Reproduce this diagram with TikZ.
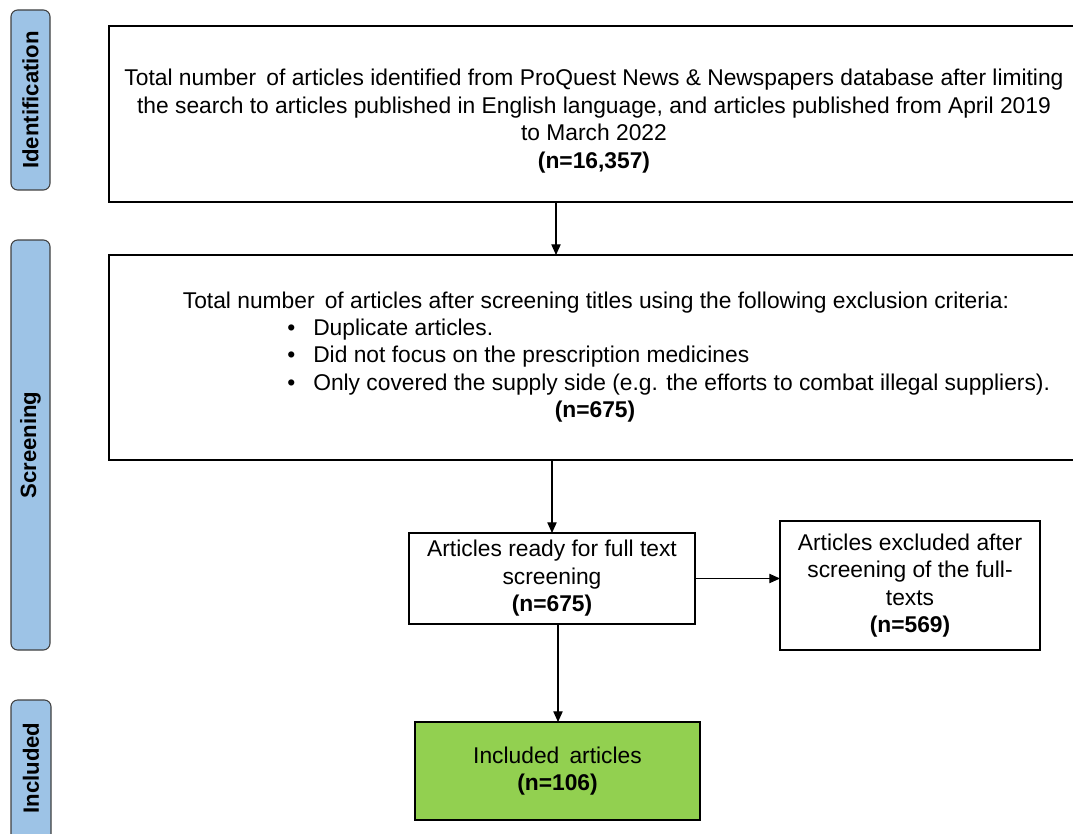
\documentclass[tikz,border=0pt]{standalone}
\usepackage{fontspec}
\setmainfont{Liberation Sans}
\usetikzlibrary{arrows.meta}
\definecolor{sidebl}{HTML}{9DC3E6}
\definecolor{incgreen}{HTML}{92D050}
\definecolor{edgegray}{HTML}{404040}
\begin{document}
\begin{tikzpicture}[x=0.75pt,y=-0.75pt,
  boxst/.style={draw=black,line width=0.8pt,rectangle,inner sep=0pt,outer sep=0pt},
  sidest/.style={draw=edgegray,fill=sidebl,line width=0.8pt,rounded corners=5pt,rectangle,inner sep=0pt,outer sep=0pt},
  sidetxt/.style={rotate=90,font=\fontsize{16.6pt}{18pt}\selectfont\bfseries},
  txt/.style={font=\fontsize{17.1pt}{20.6pt}\selectfont,inner sep=0pt,align=center},
  arr/.style={-{Triangle[length=8pt,width=7pt]},line width=0.8pt}]
\useasboundingbox (0,0) rectangle (1073,834);
\begin{scope}
\clip (0,0) rectangle (1073,834);
% side labels
\node[sidest,minimum width=39*0.75pt,minimum height=180*0.75pt] (sid) at (30.5,100) {};
\node[sidetxt] (sidt) at (30.5,100) {Identification};
\node[sidest,minimum width=39*0.75pt,minimum height=410*0.75pt] (sscr) at (30.5,445) {};
\node[sidetxt] (sscrt) at (30.5,445) {Screening};
\node[sidest,minimum width=40*0.75pt,minimum height=160*0.75pt] (sinc) at (31,780) {};
\node[sidetxt] (sinct) at (31,768) {Included};
% boxes
\node[boxst,minimum width=972*0.75pt,minimum height=176*0.75pt] (b1) at (595,114) {};
\node[txt] (b1t) at (594,121) {Total number\, of articles identified from ProQuest News \& Newspapers database after limiting\\
the search to articles published in English language, and articles published from April 2019\\
to March 2022\\ \textbf{(n=16,357)}};
\node[boxst,minimum width=972*0.75pt,minimum height=205*0.75pt] (b2) at (595,357.5) {};
\node[txt] (b2t) at (596,303) {Total number\, of articles after screening titles using the following exclusion criteria:};
\node[txt,anchor=west] (bu1) at (287,330) {•};
\node[txt,anchor=west] (bu2) at (287,357) {•};
\node[txt,anchor=west] (bu3) at (287,385) {•};
\node[txt,anchor=west] (l1) at (313,330) {Duplicate articles.};
\node[txt,anchor=west] (l2) at (313,357) {Did not focus on the prescription medicines};
\node[txt,anchor=west] (l3) at (313,385) {Only covered the supply side (e.g. the efforts to combat illegal suppliers).};
\node[txt] (b2n) at (595,412) {\textbf{(n=675)}};
\node[boxst,minimum width=286*0.75pt,minimum height=91*0.75pt,txt] (b3) at (552,578.5) {Articles ready for full text\\ screening\\ \textbf{(n=675)}};
\node[boxst,minimum width=260*0.75pt,minimum height=129*0.75pt,txt] (b4) at (910,585.5) {Articles excluded after\\ screening of the full-\\ texts\\ \textbf{(n=569)}};
\node[boxst,fill=incgreen,minimum width=285*0.75pt,minimum height=98*0.75pt,txt] (b5) at (557.5,771) {Included\, articles\\ \textbf{(n=106)}};
% connectors
\coordinate (x1) at (556,0);
\coordinate (x2) at (552,0);
\coordinate (x3) at (558,0);
\draw[arr] (x1 |- b1.south) -- (x1 |- b2.north);
\draw[arr] (x2 |- b2.south) -- (x2 |- b3.north);
\draw[arr] (b3.east) -- (b3.east -| b4.west);
\draw[arr] (x3 |- b3.south) -- (x3 |- b5.north);
\end{scope}
\end{tikzpicture}
\end{document}
